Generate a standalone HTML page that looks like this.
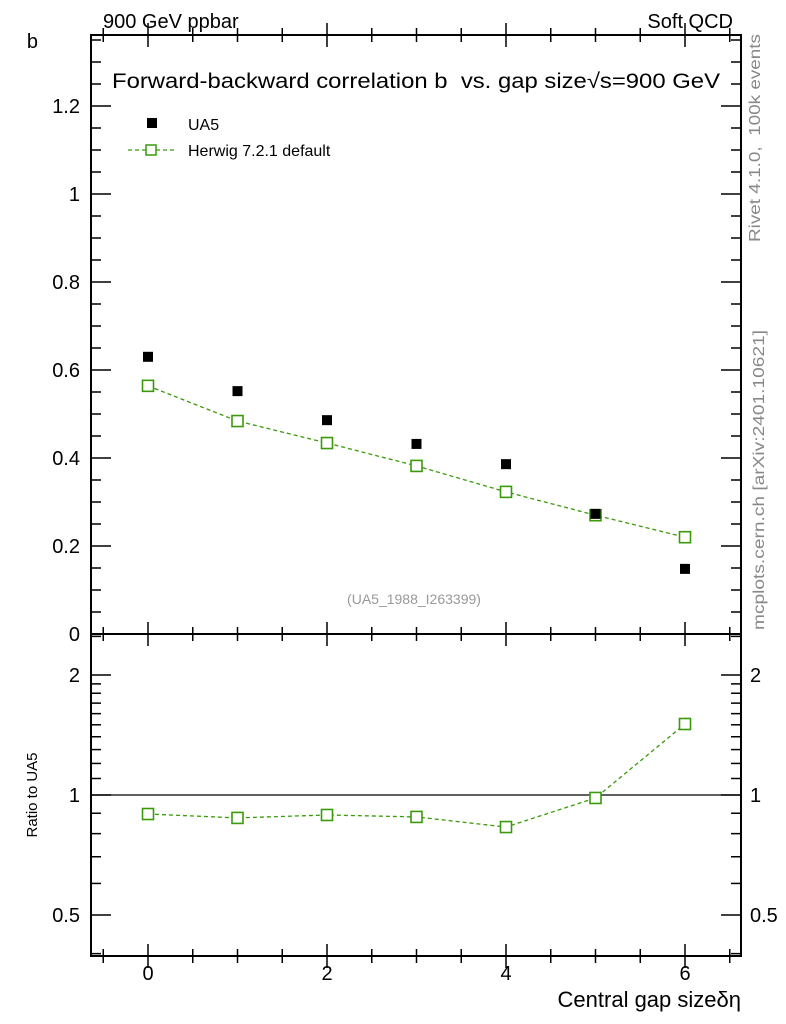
<!DOCTYPE html>
<html><head><meta charset="utf-8"><style>
body{margin:0;background:#fff;}
svg{display:block;font-family:"Liberation Sans",sans-serif;}
</style></head><body>
<svg id="c" width="786" height="1024" viewBox="0 0 786 1024">
<text x="103" y="28" font-size="20">900 GeV ppbar</text>
<text x="733" y="28" font-size="20" text-anchor="end">Soft QCD</text>
<text x="38" y="48" font-size="20" text-anchor="end">b</text>
<text x="112" y="88" font-size="21" textLength="608" lengthAdjust="spacingAndGlyphs">Forward-backward correlation b &#160;vs. gap size√s=900 GeV</text>
<text x="414" y="604" font-size="14" fill="#999" text-anchor="middle">(UA5_1988_I263399)</text>
<text transform="translate(760,242) rotate(-90)" font-size="16" fill="#888" textLength="208" lengthAdjust="spacingAndGlyphs">Rivet 4.1.0, &#160;100k events</text>
<text transform="translate(764,630) rotate(-90)" font-size="16" fill="#888" textLength="300" lengthAdjust="spacingAndGlyphs">mcplots.cern.ch [arXiv:2401.10621]</text>
<text transform="translate(37,795) rotate(-90)" font-size="15" text-anchor="middle">Ratio to UA5</text>
<text x="741" y="1007" font-size="22" text-anchor="end">Central gap sizeδη</text>
<g id="legend">
<rect x="147" y="118" width="10" height="10" fill="#000"/>
<text x="188" y="130" font-size="16">UA5</text>
<line x1="128" y1="150" x2="175" y2="150" stroke="#3a9a0a" stroke-dasharray="4,3" stroke-width="1.3"/>
<rect x="146" y="145" width="10" height="10" fill="#fff" stroke="#3a9a0a" stroke-width="1.5"/>
<text x="188" y="156" font-size="16">Herwig 7.2.1 default</text>
</g>
<g id="g"></g>
</svg>
<script>
const categories=[0,1,2,3,4,5,6];
const ua5=[0.630,0.552,0.486,0.432,0.386,0.273,0.148];
const herwig=[0.564,0.484,0.434,0.382,0.323,0.270,0.220];
const ratio=[0.896,0.876,0.891,0.881,0.831,0.983,1.507];
const yTicks=[0,0.2,0.4,0.6,0.8,1,1.2];
const yTickLabels=["0","0.2","0.4","0.6","0.8","1","1.2"];
const rTicks=[0.5,1,2];
const rTickLabels=["0.5","1","2"];
const xTicks=[0,2,4,6];
const L=91,R=741,T=35,M=634,B=956;
const X=v=>148+(v)*89.5;
const Y=v=>634-v*440;
const RY=v=>795-Math.log2(v)*120;
const G=document.getElementById('g');
const NS='http://www.w3.org/2000/svg';
function mk(t,a,p){const e=document.createElementNS(NS,t);for(const k in a)e.setAttribute(k,a[k]);(p||G).appendChild(e);return e;}
let f=mk('rect',{x:L,y:T,width:R-L,height:M-T,fill:'none',stroke:'#000','stroke-width':2});


f=mk('rect',{x:L,y:M,width:R-L,height:B-M,fill:'none',stroke:'#000','stroke-width':2});


for(let v=-0.5;v<=6.5;v+=0.5){const maj=Math.abs(v%2)<1e-9;const l=maj?12:7;const x=X(v);
 for(const yy of [T,M,B]){mk('line',{x1:x,y1:yy,x2:x,y2:yy-l,stroke:'#000','stroke-width':1.5});mk('line',{x1:x,y1:yy,x2:x,y2:yy+l,stroke:'#000','stroke-width':1.5});}
}
xTicks.forEach(v=>{const t=mk('text',{x:X(v),y:980,'font-size':20,'text-anchor':'middle'});t.textContent=v;

});
for(let i=0;i<=27;i++){const v=i*0.05;const y=Y(v);if(y<T)break;const maj=i%4==0;const l=maj?20:10;
 mk('line',{x1:L,y1:y,x2:L+l,y2:y,stroke:'#000','stroke-width':1.5});mk('line',{x1:R,y1:y,x2:R-l,y2:y,stroke:'#000','stroke-width':1.5});}
yTicks.forEach((v,i)=>{const t=mk('text',{x:80,y:Y(v)+7,'font-size':20,'text-anchor':'end'});t.textContent=yTickLabels[i];

});
const rMin=[0.4,0.5,0.6,0.7,0.8,0.9,1,1.1,1.2,1.3,1.4,1.5,1.6,1.7,1.8,1.9,2,2.5];
rMin.forEach(v=>{const y=RY(v);if(y>B||y<M)return;const maj=rTicks.includes(v);const l=maj?20:10;
 mk('line',{x1:L,y1:y,x2:L+l,y2:y,stroke:'#000','stroke-width':1.5});mk('line',{x1:R,y1:y,x2:R-l,y2:y,stroke:'#000','stroke-width':1.5});});
rTicks.forEach((v,i)=>{for(const [x,a] of [[80,'end'],[750,'start']]){const t=mk('text',{x:x,y:RY(v)+7,'font-size':20,'text-anchor':a});t.textContent=rTickLabels[i];

}});
let ref=mk('line',{x1:L,y1:RY(1),x2:R,y2:RY(1),stroke:'#000','stroke-width':1.3});


function series(vals,yf,name){const p=mk('polyline',{points:vals.map((v,i)=>X(categories[i])+','+yf(v)).join(' '),fill:'none',stroke:'#3a9a0a','stroke-width':1.3,'stroke-dasharray':'4,3'});


vals.forEach((v,i)=>{const r=mk('rect',{x:X(categories[i])-5.5,y:yf(v)-5.5,width:11,height:11,fill:'#fff',stroke:'#3a9a0a','stroke-width':1.6});

});}
series(herwig,Y,'herwig');
series(ratio,RY,'ratio');
ua5.forEach((v,i)=>{const r=mk('rect',{x:X(categories[i])-5,y:Y(v)-5,width:10,height:10,fill:'#000'});

});
</script>
</body></html>
